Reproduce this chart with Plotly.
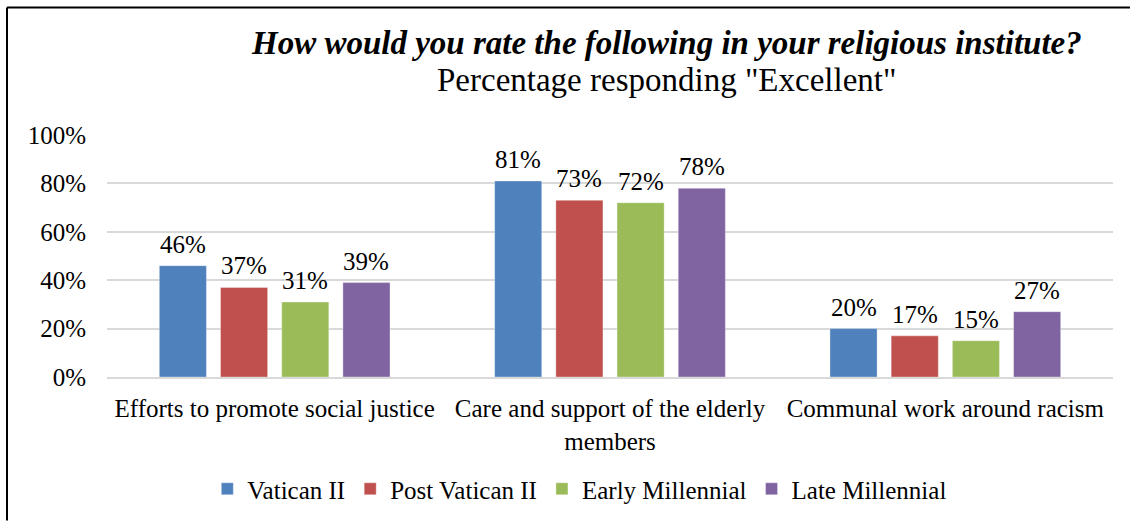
import plotly.graph_objects as go

# chart data
categories = ["Efforts to promote social justice",
              "Care and support of the elderly<br>members",
              "Communal work around racism"]
vatican_ii = [46, 81, 20]
post_vatican_ii = [37, 73, 17]
early_millennial = [31, 72, 15]
late_millennial = [39, 78, 27]

series = [
    ("Vatican II", vatican_ii, "#4F81BD"),
    ("Post Vatican II", post_vatican_ii, "#C0504D"),
    ("Early Millennial", early_millennial, "#9BBB59"),
    ("Late Millennial", late_millennial, "#8064A2"),
]

FONT = "Liberation Serif"
W, H = 1130, 522
ML, MR, MT, MB = 107, 17, 135, 144
BARGAP = 0.27

fig = go.Figure()
for name, vals, color in series:
    fig.add_trace(go.Bar(
        x=categories, y=vals, name=name,
        marker=dict(color=color, line=dict(width=1, color="rgba(255,255,255,0.35)")),
    ))

# value labels, a bit higher above the bars than plotly's default outside text
pw, ph = W - ML - MR, H - MT - MB
slot = pw / len(categories) * (1 - BARGAP) / len(series)
for i, (name, vals, color) in enumerate(series):
    for cat, v in zip(categories, vals):
        fig.add_annotation(
            x=cat, y=v, text=f"{v}%", showarrow=False,
            xshift=(i - (len(series) - 1) / 2) * slot, yshift=6,
            xanchor="center", yanchor="bottom",
            font=dict(family=FONT, size=25, color="#000000"),
        )

fig.update_layout(
    width=W, height=H,
    margin=dict(l=ML, r=MR, t=MT, b=MB),
    paper_bgcolor="white", plot_bgcolor="white",
    barmode="group", bargap=BARGAP, bargroupgap=0.23,
    font=dict(family=FONT, size=25, color="#000000"),
    legend=dict(
        orientation="h", x=0.47, xanchor="center", y=-0.457, yanchor="middle",
        font=dict(family=FONT, size=25), itemwidth=30, traceorder="normal",
    ),
    showlegend=True,
)

# title lines as annotations (pixel positions converted to paper coords)
fig.add_annotation(
    text="<b><i>How would you rate the following in your religious institute?</i></b>",
    xref="paper", yref="paper", x=(666 - ML) / pw, y=(H - MB - 43) / ph,
    xanchor="center", yanchor="middle", showarrow=False,
    font=dict(family=FONT, size=33, color="#000000"),
)
fig.add_annotation(
    text="Percentage responding \"Excellent\"",
    xref="paper", yref="paper", x=(666 - ML) / pw, y=(H - MB - 80) / ph,
    xanchor="center", yanchor="middle", showarrow=False,
    font=dict(family=FONT, size=33, color="#000000"),
)

fig.update_yaxes(
    range=[0, 100], dtick=20, ticksuffix="%",
    showgrid=True, gridcolor="#D9D9D9", gridwidth=2,
    zeroline=False, showline=False,
    ticklabelstandoff=20,
)
fig.update_xaxes(
    showline=True, linecolor="#D9D9D9", linewidth=2,
    ticklabelstandoff=8,
)

# outer frame (left and top edges only)
x0 = (7 - ML) / pw
x1 = (W - ML) / pw
ytop = (H - MB - 7) / ph
ybot = (H - MB - H) / ph
fig.add_shape(type="line", xref="paper", yref="paper", x0=x0, x1=x0, y0=ybot, y1=ytop,
              line=dict(color="black", width=2))
fig.add_shape(type="line", xref="paper", yref="paper", x0=x0, x1=x1, y0=ytop, y1=ytop,
              line=dict(color="black", width=2))

fig.write_html("out.html", config={"displayModeBar": False},
               post_script="document.body.style.margin='0';")
